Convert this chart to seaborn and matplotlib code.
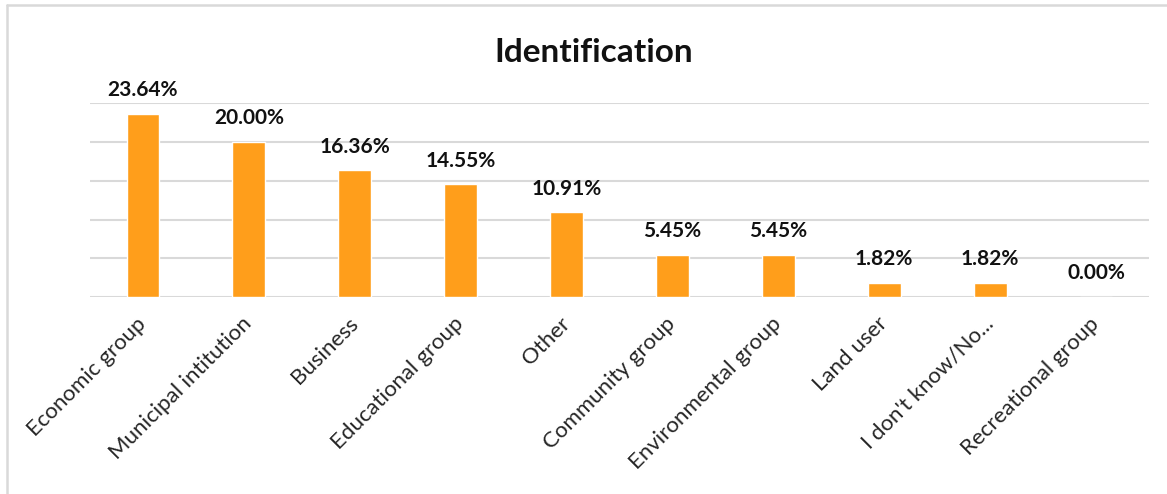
import matplotlib
matplotlib.use("Agg")
import matplotlib.pyplot as plt
import seaborn as sns
import pandas as pd
from matplotlib.lines import Line2D

categories = ["Economic group", "Municipal intitution", "Business", "Educational group",
              "Other", "Community group", "Environmental group", "Land user",
              "I don't know/No...", "Recreational group"]
values = [23.64, 20.00, 16.36, 14.55, 10.91, 5.45, 5.45, 1.82, 1.82, 0.00]
labels = ["23.64%", "20.00%", "16.36%", "14.55%", "10.91%", "5.45%", "5.45%",
          "1.82%", "1.82%", "0.00%"]
yticks = [0, 5, 10, 15, 20, 25]

sns.set_theme(style="white")
plt.rcParams['font.family'] = ['Lato', 'DejaVu Sans']

W, H = 1167, 494
fig = plt.figure(figsize=(W / 100, H / 100), dpi=100)
ax = fig.add_axes([90 / W, (H - 297) / H, (1149 - 90) / W, (297 - 103.3) / H])

df = pd.DataFrame({"cat": categories, "val": values})
sns.barplot(data=df, x="cat", y="val", color="#FF9E1B", width=0.31, saturation=1,
            ax=ax, zorder=3)

ax.set_ylim(0, 25)
ax.set_xlim(-0.5, len(categories) - 0.5)
ax.set_yticks(yticks)
ax.set_yticklabels([])
ax.tick_params(axis='y', length=0)
ax.tick_params(axis='x', length=0, pad=17)
for y in yticks:
    ax.axhline(y, color="#D9D9D9", linewidth=1.5, zorder=1)
for s in ax.spines.values():
    s.set_visible(False)
ax.set_xlabel("")
ax.set_ylabel("")
ax.set_xticks(range(len(categories)))
ax.set_xticklabels(categories, rotation=45, ha='right', va='center',
                   rotation_mode='anchor', fontsize=16, color='#262626')

for i, (v, lab) in enumerate(zip(values, labels)):
    ax.annotate(lab, xy=(i, v), xytext=(0, 12.7), textcoords='offset points',
                ha='center', va='baseline', fontsize=15, fontweight='bold',
                color='#111111')

fig.text(593.5 / W, (H - 62) / H, "Identification", ha='center', va='baseline',
         fontsize=24, fontweight='bold', color='#111111')

fig.add_artist(Line2D([7 / W, 7 / W], [0, (H - 5) / H], color="#D9D9D9", linewidth=1.8,
                      transform=fig.transFigure))
fig.add_artist(Line2D([7 / W, 1], [(H - 5) / H, (H - 5) / H], color="#D9D9D9", linewidth=1.8,
                      transform=fig.transFigure))

fig.savefig("out.png", dpi=100)
